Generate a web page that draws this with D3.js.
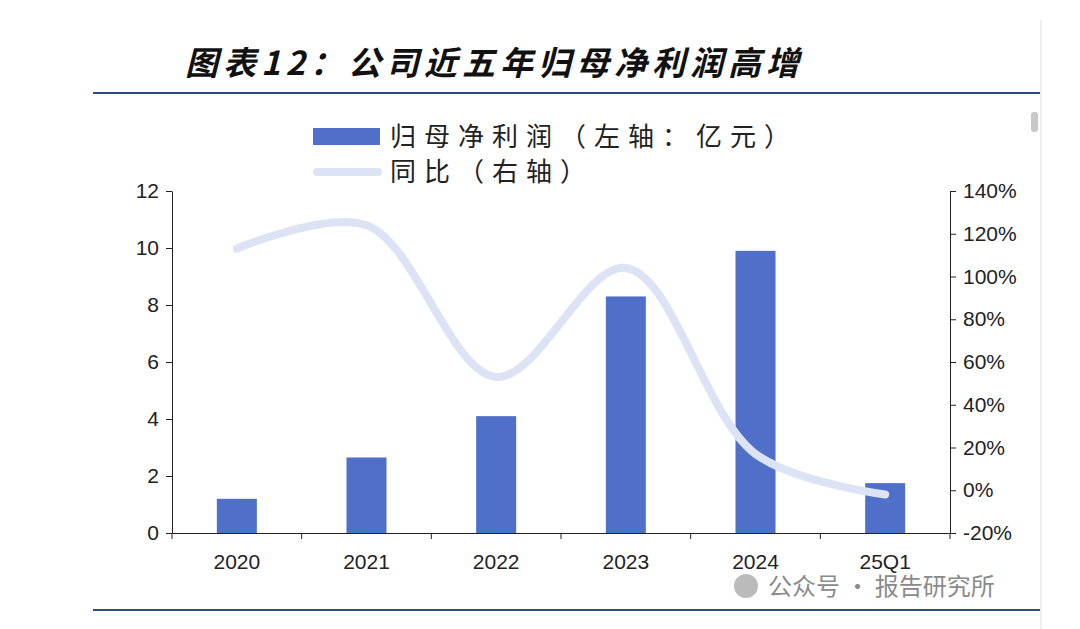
<!DOCTYPE html>
<html><head><meta charset="utf-8">
<script src="https://cdn.jsdelivr.net/npm/d3@7"></script>
<style>body{margin:0;background:#fff;}</style>
</head><body><div id="chart"></div>
<script>
// data
var categories = ["2020", "2021", "2022", "2023", "2024", "25Q1"];
var profit = [1.2, 2.65, 4.1, 8.3, 9.9, 1.75];
var growth = [113, 124, 53, 104, 17, -2];
var leftTicks = [0, 2, 4, 6, 8, 10, 12];
var rightTicks = [-20, 0, 20, 40, 60, 80, 100, 120, 140];

var W = 1080, H = 629;
var font = "'Liberation Sans', Arial, sans-serif";
var cjk = "'Noto Sans CJK SC', sans-serif";

var svg = d3.select("#chart").append("svg").attr("width", W).attr("height", H);

// title + rules
svg.append("text").attr("x", 185).attr("y", 75).text("图表12：公司近五年归母净利润高增")
  .style("font-family", cjk).style("font-size", "33px").style("font-weight", "bold")
  .style("font-style", "italic").style("letter-spacing", "5px").attr("fill", "#111");
svg.append("line").attr("x1", 93).attr("x2", 1040).attr("y1", 93).attr("y2", 93)
  .attr("stroke", "#2b4c7e").attr("stroke-width", 2);
svg.append("line").attr("x1", 93).attr("x2", 1040).attr("y1", 610).attr("y2", 610)
  .attr("stroke", "#2b4c7e").attr("stroke-width", 2);
svg.append("line").attr("x1", 1041).attr("x2", 1041).attr("y1", 20).attr("y2", 629)
  .attr("stroke", "#ddd").attr("stroke-width", 1);
svg.append("rect").attr("x", 1031).attr("y", 112).attr("width", 7).attr("height", 20)
  .attr("rx", 3).attr("fill", "#c8c8c8");

var yL = d3.scaleLinear().domain([0, 12]).range([533, 191]);
var yR = d3.scaleLinear().domain([-20, 140]).range([533, 191]);
var xb = d3.scaleBand().domain(categories).range([172, 950]);

// axes
var axL = svg.append("g").attr("transform", "translate(172,0)")
  .call(d3.axisLeft(yL).tickValues(leftTicks).tickSize(6).tickSizeOuter(0));
var axR = svg.append("g").attr("transform", "translate(950,0)")
  .call(d3.axisRight(yR).tickValues(rightTicks).tickFormat(function(d){return d + "%";}).tickSize(6).tickSizeOuter(0));
var axB = svg.append("g").attr("transform", "translate(0,533)")
  .call(d3.axisBottom(xb).tickSize(0).tickPadding(21));
axB.selectAll(".tick").append("line").attr("x1", -xb.bandwidth()/2).attr("x2", -xb.bandwidth()/2)
  .attr("y1", 0).attr("y2", 6).attr("stroke", "#000");
axB.append("line").attr("x1", 950).attr("x2", 950).attr("y1", 0).attr("y2", 6).attr("stroke", "#000");
[axL, axR, axB].forEach(function(a){
  a.selectAll("text").style("font-family", font).style("font-size", "21px").attr("fill", "#222");
  a.selectAll("path,line").attr("stroke", "#222");
});
axL.selectAll("text").attr("dx", "-4");
axR.selectAll("text").attr("dx", "4");

// bars
svg.selectAll(".bar").data(profit).enter().append("rect")
  .attr("x", function(d, i){ return xb(categories[i]) + xb.bandwidth()/2 - 20; })
  .attr("width", 40)
  .attr("y", function(d){ return yL(d); })
  .attr("height", function(d){ return 533 - yL(d); })
  .attr("fill", "#4f6fc8");

// growth line
var line = d3.line().curve(d3.curveCatmullRom.alpha(0.5))
  .x(function(d, i){ return xb(categories[i]) + xb.bandwidth()/2; })
  .y(function(d){ return yR(d); });
svg.append("path").attr("d", line(growth)).attr("fill", "none")
  .attr("stroke", "#dce3f5").attr("stroke-width", 8).attr("stroke-linecap", "round");

// legend
svg.append("rect").attr("x", 313).attr("y", 128).attr("width", 67).attr("height", 17).attr("fill", "#4f6fc8");
svg.append("line").attr("x1", 317).attr("x2", 378).attr("y1", 172).attr("y2", 172)
  .attr("stroke", "#dce3f5").attr("stroke-width", 8).attr("stroke-linecap", "round");
svg.append("text").attr("x", 390).attr("y", 146).text("归母净利润（左轴：亿元）")
  .style("font-family", cjk).style("font-size", "26px").style("letter-spacing", "8px").attr("fill", "#222");
svg.append("text").attr("x", 390).attr("y", 181).text("同比（右轴）")
  .style("font-family", cjk).style("font-size", "26px").style("letter-spacing", "8px").attr("fill", "#222");

// watermark
svg.append("circle").attr("cx", 746).attr("cy", 586).attr("r", 12).attr("fill", "#bbb");
svg.append("text").attr("x", 768).attr("y", 595).text("公众号 · 报告研究所")
  .style("font-family", cjk).style("font-size", "24px").attr("fill", "#8a8a8a");
</script></body></html>
